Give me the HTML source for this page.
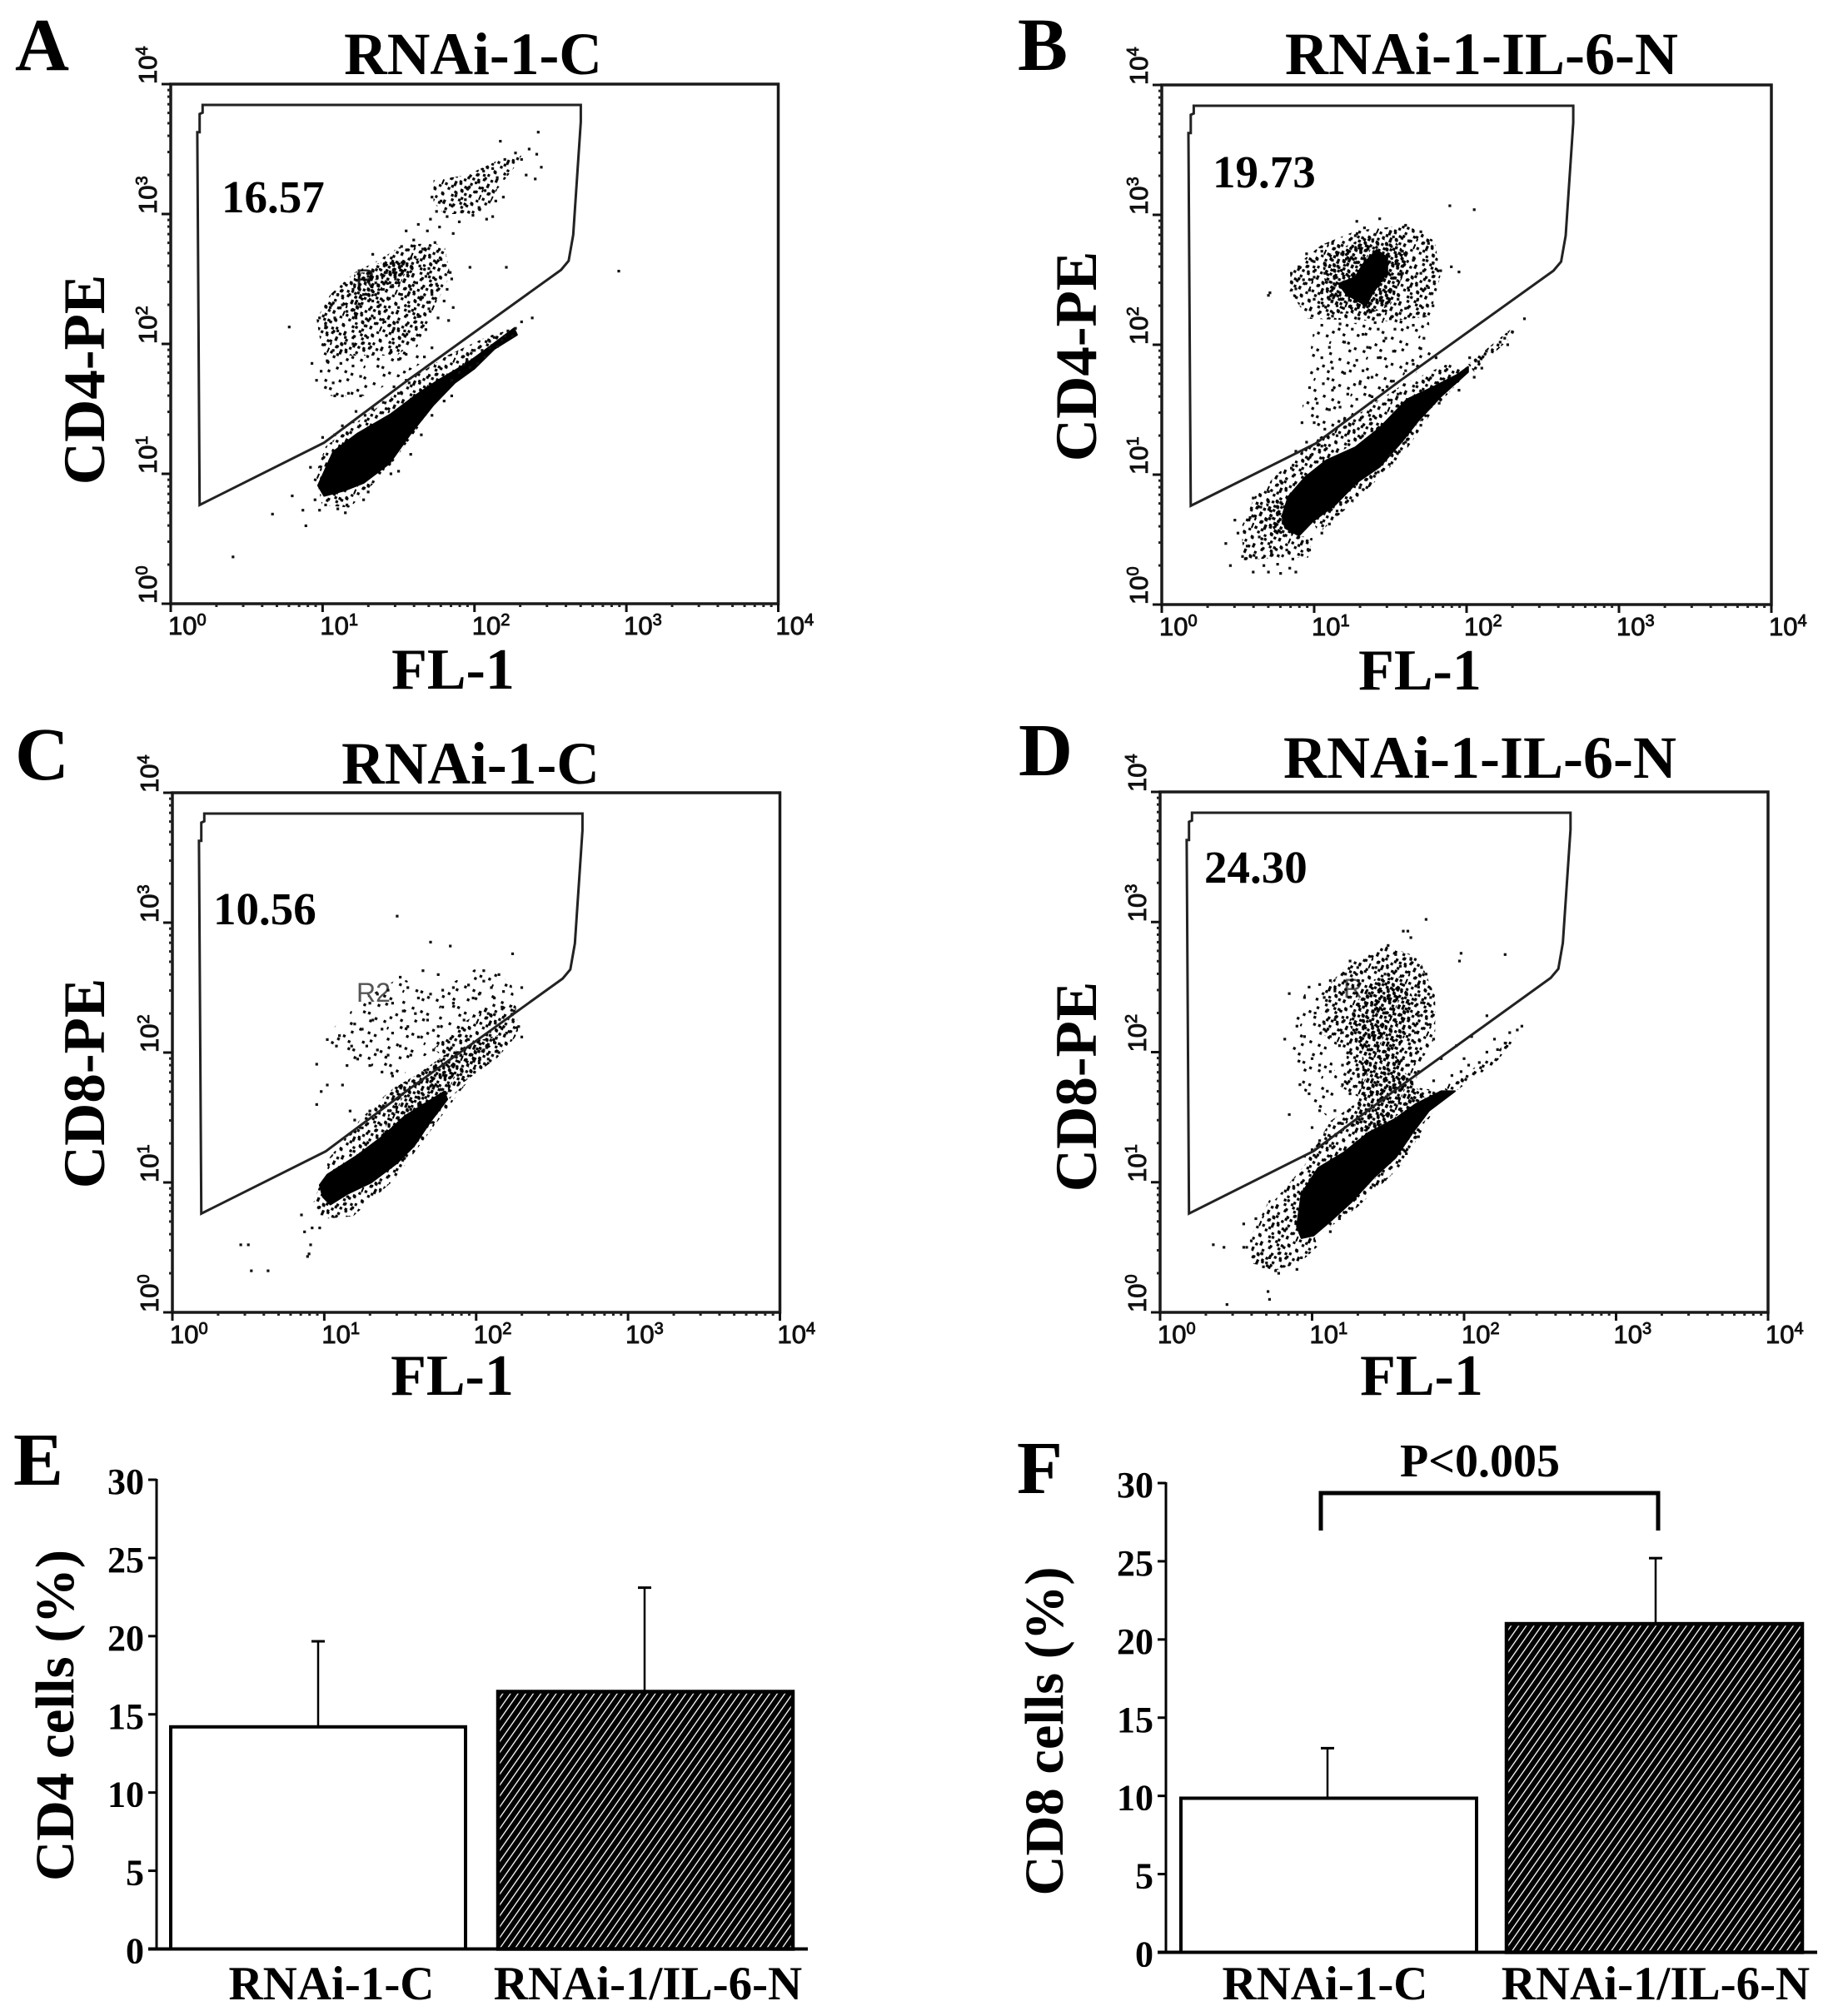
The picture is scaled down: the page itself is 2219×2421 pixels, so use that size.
<!DOCTYPE html>
<html lang="en">
<head>
<meta charset="utf-8">
<title>CD4 and CD8 flow cytometry panels</title>
<style>
html,body{margin:0;padding:0;background:#fff;}
svg{display:block;}
text{font-family:"Liberation Serif",serif;font-weight:bold;fill:#000;}
.tick{font-family:"Liberation Sans",sans-serif;font-weight:normal;fill:#111;stroke:#111;stroke-width:.9px;}
</style>
</head>
<body>
<svg id="figure" xmlns="http://www.w3.org/2000/svg" width="2219" height="2421" viewBox="0 0 2219 2421">
<defs id="defs">
<pattern id="hatch" patternUnits="userSpaceOnUse" width="7.5" height="8" patternTransform="rotate(35)">
<rect width="8" height="8" fill="#000"/>
<rect x="3" y="0" width="1.3" height="8" fill="#fff"/>
</pattern>
</defs>
<rect width="2219" height="2421" fill="#fff"/>
<text x="18" y="84" font-size="90">A</text>
<text x="1222" y="84" font-size="90">B</text>
<text x="18" y="936" font-size="90">C</text>
<text x="1223" y="931" font-size="90">D</text>
<text x="16" y="1783" font-size="90">E</text>
<text x="1221" y="1793" font-size="90">F</text>

<text x="568" y="89" font-size="71.5" text-anchor="middle">RNAi-1-C</text>
<text x="1779" y="89" font-size="72" text-anchor="middle">RNAi-1-IL-6-N</text>
<text x="565" y="941" font-size="71.5" text-anchor="middle">RNAi-1-C</text>
<text x="1777" y="934" font-size="72" text-anchor="middle">RNAi-1-IL-6-N</text>

<text x="544" y="827" font-size="70" text-anchor="middle">FL-1</text>
<text x="1705" y="828" font-size="70" text-anchor="middle">FL-1</text>
<text x="543" y="1675" font-size="70" text-anchor="middle">FL-1</text>
<text x="1707" y="1675" font-size="70" text-anchor="middle">FL-1</text>

<text transform="translate(125,456) rotate(-90)" font-size="71" text-anchor="middle">CD4-PE</text>
<text transform="translate(1316,428) rotate(-90)" font-size="71" text-anchor="middle">CD4-PE</text>
<text transform="translate(125,1301) rotate(-90)" font-size="71" text-anchor="middle">CD8-PE</text>
<text transform="translate(1316,1305) rotate(-90)" font-size="71" text-anchor="middle">CD8-PE</text>

<text x="266" y="255" font-size="55">16.57</text>
<text x="1456" y="225" font-size="55">19.73</text>
<text x="256" y="1110" font-size="55">10.56</text>
<text x="1446" y="1060" font-size="55">24.30</text>

<text x="427" y="346" font-size="32" style="font-family:'Liberation Sans',sans-serif;font-weight:normal;fill:#222">R</text>
<text x="428" y="1203" font-size="32" style="font-family:'Liberation Sans',sans-serif;font-weight:normal;fill:#555">R2</text>
<text x="1613" y="1198" font-size="32" style="font-family:'Liberation Sans',sans-serif;font-weight:normal;fill:#555">R</text>

<text transform="translate(88,2060) rotate(-90)" font-size="66" text-anchor="middle" textLength="398" lengthAdjust="spacingAndGlyphs">CD4 cells (%)</text>
<text transform="translate(1276,2079) rotate(-90)" font-size="66" text-anchor="middle" textLength="395" lengthAdjust="spacingAndGlyphs">CD8 cells (%)</text>

<text x="1777" y="1773" font-size="56" text-anchor="middle">P&lt;0.005</text>
<path d="M1586 1838V1793H1991V1838" fill="none" stroke="#000" stroke-width="5"/>
</svg>

<script>
// All event coordinates are log10 decades (0 to 4).
const xTickExponents = [0, 1, 2, 3, 4];
const yTickExponents = [0, 1, 2, 3, 4];
const gateVertices = [[0.21,3.84],[2.70,3.84],[2.70,3.71],[2.65,2.84],[2.62,2.64],[2.57,2.57],[1.56,1.72],[1.01,1.24],[0.19,0.76],[0.175,3.63],[0.19,3.63],[0.19,3.77],[0.21,3.78]];

// Solid black population cores
const coreA = [[0.97,0.91],[1.07,1.17],[1.23,1.31],[1.45,1.46],[1.62,1.61],[1.76,1.72],[1.95,1.85],[2.09,1.97],[2.26,2.12],[2.28,2.07],[2.13,1.96],[2.0,1.81],[1.87,1.70],[1.73,1.53],[1.58,1.31],[1.44,1.08],[1.27,0.93],[1.14,0.87],[1.01,0.83]];
const coreB = [[0.79,0.68],[0.83,0.83],[0.94,0.98],[1.08,1.11],[1.27,1.21],[1.43,1.36],[1.61,1.58],[1.79,1.68],[1.94,1.77],[2.01,1.83],[2.01,1.79],[1.83,1.60],[1.68,1.41],[1.58,1.26],[1.43,1.06],[1.28,0.94],[1.14,0.77],[0.99,0.64],[0.90,0.53],[0.81,0.59]];
const coreB2 = [[1.32,2.62],[1.41,2.73],[1.48,2.67],[1.48,2.56],[1.38,2.39],[1.34,2.30],[1.21,2.39],[1.16,2.47],[1.27,2.52]];
const coreC = [[0.97,0.98],[1.02,1.06],[1.22,1.21],[1.39,1.36],[1.53,1.51],[1.68,1.62],[1.79,1.70],[1.81,1.64],[1.70,1.47],[1.59,1.28],[1.48,1.15],[1.31,1.00],[1.15,0.91],[1.04,0.83],[0.99,0.89]];
const coreD = [[0.90,0.66],[0.93,0.91],[1.04,1.11],[1.21,1.23],[1.37,1.38],[1.55,1.49],[1.68,1.60],[1.85,1.70],[1.94,1.70],[1.77,1.55],[1.66,1.38],[1.55,1.19],[1.41,1.04],[1.26,0.85],[1.12,0.70],[1.01,0.59],[0.93,0.57]];

// Outlines of regions with high event density
const denseA1 = [[1.21,2.55],[1.32,2.55],[1.40,2.42],[1.27,2.32],[1.20,2.19],[1.18,2.23]];
const denseA2 = [[1.36,2.62],[1.65,2.66],[1.54,2.47],[1.40,2.45]];
const denseB1 = [[1.05,2.67],[1.28,2.80],[1.50,2.84],[1.61,2.69],[1.58,2.52],[1.50,2.30],[1.36,2.24],[1.17,2.24],[1.08,2.39]];
const denseB2 = [[0.68,0.79],[0.83,0.83],[0.79,0.68],[0.90,0.53],[0.74,0.55]];
const denseC1 = [[1.46,1.73],[1.61,1.83],[1.79,1.98],[2.01,2.09],[2.19,2.15],[2.08,2.03],[1.94,1.79],[1.79,1.66],[1.59,1.47],[1.39,1.36]];
const denseD1 = [[1.28,2.37],[1.41,2.56],[1.59,2.58],[1.68,2.39],[1.63,2.17],[1.55,1.98],[1.63,1.81],[1.33,1.81],[1.33,2.02],[1.24,2.22]];
const denseD2 = [[1.33,1.81],[1.63,1.81],[1.75,1.64],[1.68,1.60],[1.37,1.38],[1.28,1.43]];

// Outlines of regions with medium event density
const midA1 = [[0.96,2.19],[1.05,2.38],[1.21,2.55],[1.36,2.64],[1.54,2.77],[1.80,2.77],[1.84,2.53],[1.76,2.34],[1.65,2.06],[1.49,1.91],[1.18,1.91],[1.01,1.85]];
const midA2 = [[1.73,3.26],[1.95,3.30],[2.15,3.41],[2.31,3.45],[2.27,3.37],[2.15,3.19],[2.07,3.00],[1.80,3.00],[1.73,3.09]];
const midA3 = [[0.94,0.95],[1.02,1.21],[1.18,1.36],[1.43,1.57],[1.62,1.76],[1.82,1.91],[2.09,2.06],[2.20,2.10],[2.09,1.95],[1.76,1.72],[1.45,1.46],[1.23,1.31],[1.07,1.17],[0.97,0.91]];
const midA4 = [[0.97,0.91],[0.995,0.76],[1.18,0.74],[1.43,1.04],[1.62,1.34],[1.73,1.53],[1.58,1.31],[1.44,1.08],[1.27,0.93],[1.01,0.83]];
const midB1 = [[0.85,2.58],[1.05,2.77],[1.28,2.88],[1.61,2.92],[1.79,2.80],[1.83,2.54],[1.76,2.22],[1.50,2.18],[0.96,2.20],[0.83,2.43]];
const midB2 = [[0.61,0.83],[0.85,1.11],[1.05,1.30],[1.32,1.49],[1.59,1.70],[1.87,1.85],[2.01,1.83],[1.43,1.36],[1.08,1.11],[0.83,0.83],[0.79,0.68],[0.76,0.53],[0.59,0.59]];
const midB3 = [[0.52,0.59],[0.61,0.83],[0.79,0.68],[0.90,0.53],[0.99,0.51],[0.96,0.36],[0.74,0.36],[0.54,0.34]];
const midB4 = [[1.28,0.81],[1.58,1.15],[1.79,1.51],[2.01,1.79],[1.83,1.60],[1.58,1.26],[1.28,0.94],[0.99,0.64],[1.03,0.55]];
const midB5 = [[2.01,1.85],[2.30,2.13],[2.32,2.09],[2.05,1.79]];
const midC1 = [[1.02,1.17],[1.24,1.49],[1.39,1.66],[1.46,1.73],[1.39,1.36],[1.22,1.21],[1.02,1.06]];
const midC2 = [[1.72,2.03],[1.90,2.22],[2.08,2.35],[2.26,2.37],[2.28,2.15],[2.14,1.96],[1.94,1.79]];
const midC3 = [[0.93,0.85],[0.99,0.72],[1.19,0.74],[1.46,1.02],[1.72,1.43],[1.94,1.77],[1.81,1.64],[1.59,1.28],[1.31,1.00],[1.04,0.83],[0.97,0.98]];
const midD1 = [[1.06,2.45],[1.23,2.67],[1.48,2.82],[1.70,2.73],[1.81,2.43],[1.81,2.11],[1.70,1.90],[1.68,1.73],[1.33,1.64],[1.19,1.73],[1.23,1.98],[1.06,2.15]];
const midD2 = [[0.95,1.13],[1.12,1.47],[1.33,1.64],[1.68,1.73],[1.85,1.70],[1.55,1.49],[1.21,1.23],[1.04,1.11],[0.93,0.91],[0.90,0.66],[0.73,0.83]];
const midD3 = [[0.60,0.59],[0.73,0.89],[0.90,0.66],[1.01,0.59],[1.04,0.51],[0.92,0.38],[0.75,0.32],[0.60,0.38]];
const midD4 = [[1.85,1.73],[2.18,1.96],[2.34,2.15],[2.34,2.11],[2.21,1.92],[1.92,1.68]];
const midD5 = [[0.97,0.53],[1.30,0.81],[1.59,1.13],[1.79,1.53],[1.66,1.38],[1.55,1.19],[1.26,0.85],[1.01,0.59]];

// Outlines of regions with low event density
const sparseA1 = [[1.0,1.85],[1.18,1.91],[1.49,1.91],[1.65,2.06],[1.72,1.9],[1.3,1.6],[1.0,1.6]];
const sparseB1 = [[1.0,2.15],[1.75,2.2],[1.78,1.95],[1.6,1.68],[1.3,1.5],[1.05,1.3],[0.92,1.5]];
const sparseC1 = [[1.00,2.11],[1.20,2.37],[1.50,2.58],[1.72,2.45],[2.03,2.67],[2.23,2.54],[2.26,2.37],[1.72,2.03],[1.46,1.77],[1.17,1.94]];
const sparseD1 = [[1.06,2.15],[1.19,1.73],[1.1,1.5],[0.95,1.7],[0.85,2.1],[0.95,2.45],[1.06,2.45]];

// Individually visible events
const eventsA = [[2.42,3.63],[2.17,3.56],[2.36,3.5],[2.27,3.47],[2.31,3.42],[2.41,3.46],[2.44,3.36],[2.4,3.27],[2.34,3.3],[2.2,3.42],[2.12,3.35],[2.15,3.28],[2.06,3.33],[2.01,3.24],[2.07,3.18],[1.96,3.2],[1.88,3.16],[1.94,3.11],[2.03,3.05],[2.14,3.1],[2.19,3.13],[1.84,3.07],[1.78,3.1],[1.72,3.13],[1.75,3.02],[1.82,2.98],[1.71,2.96],[1.9,2.94],[1.99,2.99],[2.08,2.96],[2.12,2.98],[1.77,2.9],[1.86,2.85],[1.69,2.87],[1.63,2.92],[1.6,2.8],[1.55,2.87],[1.52,2.75],[1.66,2.73],[1.74,2.78],[1.33,2.69],[1.45,2.62],[1.52,2.6],[1.58,2.66],[1.64,2.6],[1.7,2.58],[1.78,2.65],[1.84,2.55],[1.97,2.59],[1.42,2.55],[1.48,2.5],[1.56,2.53],[1.62,2.47],[1.68,2.52],[1.75,2.46],[1.82,2.42],[1.85,2.5],[1.3,2.52],[1.35,2.47],[1.4,2.42],[1.46,2.45],[1.52,2.38],[1.58,2.42],[1.65,2.36],[1.72,2.38],[1.8,2.33],[1.86,2.28],[1.24,2.5],[1.2,2.42],[1.27,2.38],[1.33,2.33],[1.38,2.3],[1.44,2.35],[1.5,2.28],[1.57,2.25],[1.63,2.21],[1.7,2.27],[1.76,2.2],[1.83,2.18],[1.1,2.38],[1.13,2.3],[1.05,2.28],[1.08,2.2],[1.16,2.25],[1.22,2.2],[1.28,2.14],[1.34,2.2],[1.41,2.17],[1.47,2.12],[1.54,2.1],[1.6,2.03],[1.68,2.11],[0.98,2.2],[1.02,2.14],[1.1,2.1],[1.15,2.05],[1.2,2.0],[1.72,1.97],[1.67,1.9],[1.45,1.95],[1.5,1.88],[1.55,1.92],[1.07,1.95],[1.03,1.87],[1.12,1.85],[1.2,1.83],[1.25,1.75],[0.99,1.79],[0.93,1.85],[0.96,1.72],[1.07,1.7],[1.17,1.62],[1.13,1.6],[1.08,1.6],[1.25,1.6],[1.55,1.72],[2.27,2.12],[2.22,2.1],[2.18,2.03],[2.13,2.05],[2.1,1.97],[2.05,1.95],[2.0,1.95],[2.07,1.9],[2.15,1.98],[2.25,2.06],[2.31,2.17],[2.38,2.2],[2.02,1.85],[1.95,1.88],[1.9,1.78],[1.85,1.72],[2.2,2.06],[2.1,2.02],[1.97,1.82],[1.93,1.84],[1.0,1.28],[1.08,1.3],[1.13,1.37],[1.2,1.4],[1.28,1.45],[1.33,1.5],[1.4,1.55],[1.22,1.48],[1.5,1.62],[1.57,1.7],[1.47,1.67],[0.92,1.05],[0.95,0.8],[1.02,0.76],[1.1,0.73],[1.16,0.76],[1.27,0.8],[1.3,0.86],[1.45,1.0],[1.5,1.02],[1.58,1.15],[1.65,1.3],[1.72,1.45],[1.8,1.56],[1.85,1.6],[2.95,2.56],[0.41,0.36],[0.67,0.69],[0.8,0.83],[0.87,0.72],[0.89,0.6],[0.78,2.13],[2.21,2.59],[0.98,0.72],[1.15,0.7]];
const eventsB = [[1.89,3.07],[2.05,3.04],[1.43,2.97],[1.6,2.92],[1.33,2.9],[1.7,2.87],[1.27,2.84],[1.52,2.83],[1.62,2.8],[1.75,2.78],[1.12,2.78],[1.18,2.7],[1.05,2.72],[1.0,2.64],[0.95,2.7],[0.9,2.6],[0.85,2.55],[0.93,2.5],[0.97,2.42],[0.88,2.43],[1.0,2.52],[1.05,2.4],[1.06,2.3],[1.12,2.22],[1.17,2.16],[1.25,2.12],[1.32,2.08],[1.4,2.17],[1.5,2.2],[1.6,2.28],[1.68,2.35],[1.75,2.44],[1.83,2.57],[1.7,2.55],[1.78,2.63],[1.65,2.65],[1.58,2.55],[1.62,2.42],[1.55,2.35],[1.47,2.3],[1.42,2.12],[1.53,2.12],[1.9,2.6],[1.95,2.56],[0.7,2.38],[0.71,2.4],[1.1,2.6],[1.07,2.55],[1.13,2.47],[1.17,2.4],[1.1,2.35],[1.15,2.3],[1.28,2.95],[1.5,2.87],[1.4,2.85],[1.58,2.72],[1.55,2.62],[1.12,2.65],[1.0,2.35],[1.05,2.15],[1.72,2.22],[1.78,2.3],[1.65,2.15],[1.72,2.05],[1.7,1.97],[1.8,1.9],[1.65,1.85],[1.52,1.95],[1.47,2.05],[1.42,1.9],[1.35,1.98],[1.28,1.88],[1.2,2.02],[1.1,1.98],[1.05,1.9],[1.12,1.82],[1.2,1.78],[1.32,1.8],[1.38,1.75],[1.3,1.7],[1.22,1.62],[1.12,1.65],[1.06,1.7],[0.97,1.67],[1.02,1.55],[1.1,1.5],[1.17,1.52],[1.28,1.58],[1.38,1.6],[1.45,1.65],[1.52,1.72],[1.6,1.8],[1.55,1.62],[0.92,1.4],[1.0,1.4],[1.07,1.35],[1.15,1.3],[1.2,1.42],[1.3,1.42],[0.95,1.25],[0.88,1.18],[0.98,1.15],[1.05,1.22],[2.38,2.2],[2.3,2.1],[2.27,2.0],[2.22,2.02],[2.13,1.95],[2.08,1.87],[2.02,1.9],[2.25,2.05],[0.42,0.47],[0.45,0.3],[0.5,0.55],[0.53,0.37],[0.56,0.45],[0.58,0.67],[0.6,0.25],[0.62,0.36],[0.64,0.52],[0.67,0.3],[0.7,0.25],[0.72,0.4],[0.76,0.31],[0.78,0.24],[0.84,0.28],[0.88,0.25],[0.86,0.35],[0.48,0.65],[0.65,0.75],[0.6,0.82],[0.7,0.87],[0.78,0.95],[0.85,1.05],[1.1,0.62],[1.15,0.72],[1.25,0.8],[1.3,0.9],[1.42,1.02],[1.5,1.15],[1.6,1.25],[1.7,1.38],[1.82,1.55],[1.95,1.65],[2.05,1.75],[2.1,1.82],[1.05,0.55],[0.97,0.42],[0.82,0.42]];
const eventsC = [[1.48,3.05],[1.7,2.85],[1.83,2.82],[2.24,2.76],[2.05,2.63],[2.15,2.6],[1.65,2.63],[1.75,2.6],[1.78,2.48],[1.85,2.5],[1.95,2.52],[2.05,2.55],[2.1,2.5],[2.18,2.47],[2.3,2.5],[2.12,2.42],[2.02,2.45],[2.17,2.35],[2.25,2.32],[1.5,2.58],[1.55,2.5],[1.62,2.42],[1.7,2.45],[1.78,2.35],[1.85,2.38],[1.98,2.42],[2.08,2.3],[1.42,2.48],[1.35,2.45],[1.3,2.38],[1.45,2.38],[1.52,2.32],[1.6,2.3],[1.68,2.25],[1.75,2.2],[1.2,2.22],[1.25,2.18],[1.32,2.25],[1.38,2.18],[1.45,2.15],[1.55,2.2],[1.62,2.12],[1.1,2.13],[1.02,2.1],[1.08,2.05],[1.18,2.05],[1.28,2.05],[1.35,2.02],[1.42,1.98],[1.5,2.05],[1.57,1.98],[1.22,1.95],[1.15,1.9],[1.3,1.9],[1.38,1.85],[1.45,1.82],[0.95,1.91],[1.02,1.75],[0.98,1.7],[1.12,1.75],[0.95,1.6],[1.17,1.55],[1.2,1.48],[1.3,1.55],[1.25,1.42],[2.28,2.2],[2.3,2.12],[2.2,2.15],[2.12,2.08],[2.15,2.0],[2.05,2.02],[2.02,1.92],[2.08,1.95],[1.95,2.1],[1.9,1.98],[1.92,2.25],[1.82,2.08],[1.72,2.02],[0.85,0.75],[0.92,0.65],[0.97,0.65],[0.87,0.62],[0.91,0.52],[0.9,0.45],[0.89,0.43],[0.45,0.52],[0.5,0.52],[0.52,0.32],[0.63,0.32]];
const eventsD = [[1.75,3.02],[1.63,2.93],[1.6,2.93],[1.65,2.88],[1.5,2.82],[1.55,2.75],[1.65,2.72],[1.58,2.66],[1.72,2.65],[1.98,2.76],[1.97,2.7],[2.27,2.75],[1.75,2.6],[1.25,2.7],[1.3,2.65],[1.22,2.6],[1.35,2.62],[1.42,2.65],[1.48,2.6],[1.7,2.5],[1.78,2.42],[1.72,2.38],[1.12,2.55],[1.05,2.52],[1.08,2.42],[1.15,2.47],[0.85,2.45],[0.95,2.42],[0.98,2.5],[1.1,2.32],[1.15,2.25],[1.08,2.22],[1.02,2.3],[1.2,2.15],[1.12,2.12],[1.18,2.05],[1.75,2.22],[1.8,2.1],[1.68,2.15],[1.7,2.28],[0.95,2.12],[0.82,2.1],[0.9,2.2],[1.0,1.95],[1.05,1.9],[1.2,1.9],[1.25,2.0],[1.12,1.85],[0.92,1.75],[0.98,1.68],[1.1,1.7],[1.2,1.75],[1.25,1.68],[1.05,1.55],[1.15,1.55],[1.2,1.45],[1.0,1.42],[0.85,1.52],[1.05,1.32],[1.12,1.28],[1.0,1.25],[0.95,1.2],[1.7,1.85],[1.8,1.78],[1.6,1.95],[1.85,1.95],[2.0,1.95],[2.15,2.28],[2.05,2.12],[1.95,2.05],[2.2,2.1],[2.3,2.15],[2.35,2.17],[2.38,2.2],[2.27,2.07],[2.22,2.02],[2.15,2.0],[2.1,1.92],[2.03,1.9],[1.98,1.85],[1.92,1.82],[0.35,0.52],[0.42,0.5],[0.55,0.5],[0.57,0.5],[0.6,0.55],[0.55,0.68],[0.63,0.72],[0.67,0.45],[0.7,0.38],[0.72,0.42],[0.76,0.32],[0.68,0.35],[0.78,0.3],[0.9,0.33],[0.93,0.42],[0.72,0.1],[0.44,0.06],[0.71,0.16],[1.12,0.62],[1.18,0.72],[1.4,0.98],[1.48,1.02],[1.62,1.22],[1.7,1.35]];

const panelLayouts = [
  {id:'a', left:205, right:934.5, top:101, bottom:725, events:eventsA, cores:[coreA], dense:[denseA1,denseA2], mid:[midA1,midA2,midA3,midA4], sparse:[sparseA1]},
  {id:'b', left:1395, right:2127, top:102, bottom:726, events:eventsB, cores:[coreB,coreB2], dense:[denseB1,denseB2], mid:[midB1,midB2,midB3,midB4,midB5], sparse:[sparseB1]},
  {id:'c', left:207, right:936.5, top:952, bottom:1576, events:eventsC, cores:[coreC], dense:[denseC1], mid:[midC1,midC2,midC3], sparse:[sparseC1]},
  {id:'d', left:1393, right:2123, top:951, bottom:1576, events:eventsD, cores:[coreD], dense:[denseD1,denseD2], mid:[midD1,midD2,midD3,midD4,midD5], sparse:[sparseD1]}
];

const barCategories = ['RNAi-1-C', 'RNAi-1/IL-6-N'];
const barTickValues = [0, 5, 10, 15, 20, 25, 30];
const cd4Means = [14.2, 16.45];
const cd4Tops = [19.67, 23.1];
const cd8Means = [9.85, 21.0];
const cd8Tops = [13.05, 25.2];

// Speckle texture used to fill the density regions
const speckleCells = [[3,5],[14,2],[27,7],[40,3],[8,14],[20,12],[33,15],[45,11],[1,22],[13,24],[25,20],[37,23],[44,28],[6,31],[18,33],[30,29],[39,35],[10,40],[23,41],[34,43],[46,41],[16,45],[28,36],[2,40],[9,26],[21,27],[35,7],[42,18],[16,7],[30,22],[12,34],[24,4]];
const sparseShifts = [];
const midShifts = [[16,9]];
const denseShifts = [[16,9],[31,27],[8,30]];

const svg = document.getElementById('figure');
const defs = document.getElementById('defs');
const NS = 'http://www.w3.org/2000/svg';
function make(tag, attrs, parent) {
  const el = document.createElementNS(NS, tag);
  for (const k in attrs) el.setAttribute(k, attrs[k]);
  (parent || svg).appendChild(el);
  return el;
}

function speckleOffsets(cells, shifts) {
  let out = cells.slice();
  shifts.forEach(s => {
    out = out.concat(cells.map(c => [(c[0] + s[0]) % 48, (c[1] + s[1]) % 48]));
  });
  return out;
}
function makeSpeckle(id, cells) {
  const pat = make('pattern', {id:id, patternUnits:'userSpaceOnUse', width:48, height:48, patternTransform:'rotate(23)'}, defs);
  
  
  const d = cells.map(c => 'M' + c[0] + ' ' + c[1] + 'h3.2v3.2h-3.2z').join('');
  const path = make('path', {d:d, fill:'#000'}, pat);
  
  
}
makeSpeckle('speckleSparse', speckleCells.filter((c, i) => i % 2 === 0));
makeSpeckle('speckleMid', speckleOffsets(speckleCells, midShifts));
makeSpeckle('speckleDense', speckleOffsets(speckleCells, denseShifts));

function drawFlow(p) {
  const sx = v => p.left + v / 4 * (p.right - p.left);
  const sy = v => p.bottom - v / 4 * (p.bottom - p.top);
  const pts = a => a.map(d => sx(d[0]).toFixed(1) + ',' + sy(d[1]).toFixed(1)).join(' ');
  const g = make('g', {});
  
  

  const frame = make('rect', {x:p.left, y:p.top, width:p.right-p.left, height:p.bottom-p.top, fill:'none', stroke:'#1a1a1a', 'stroke-width':3.5}, g);
  
  

  p.sparse.forEach(r => {
    const el = make('polygon', {points:pts(r), fill:'url(#speckleSparse)'}, g);
    
    
  });
  p.mid.forEach(r => {
    const el = make('polygon', {points:pts(r), fill:'url(#speckleMid)'}, g);
    
    
  });
  p.dense.forEach(r => {
    const el = make('polygon', {points:pts(r), fill:'url(#speckleDense)'}, g);
    
    
  });
  p.cores.forEach(c => {
    const el = make('polygon', {points:pts(c), fill:'#000', stroke:'#000', 'stroke-width':2, 'stroke-linejoin':'round'}, g);
    
    
  });
  p.events.forEach(d => {
    const el = make('rect', {x:(sx(d[0])-1.6).toFixed(1), y:(sy(d[1])-1.6).toFixed(1), width:3.2, height:3.2, fill:'#111'}, g);
    
    
  });

  const gate = make('polygon', {points:pts(gateVertices), fill:'none', stroke:'#222', 'stroke-width':3}, g);
  
  

  xTickExponents.forEach(e => {
    const label = make('text', {x:sx(e)-3, y:p.bottom+37, 'font-size':31, class:'tick'}, g);
    
    
    label.textContent = '10';
    const sup = make('tspan', {dy:-11, 'font-size':20}, label);
    sup.textContent = String(e);
    const mark = make('line', {x1:sx(e), x2:sx(e), y1:p.bottom, y2:p.bottom+10, stroke:'#111', 'stroke-width':3}, g);
    
    
    if (e < 4) for (let m = 2; m < 10; m++) {
      const minor = make('line', {x1:sx(e+Math.log10(m)), x2:sx(e+Math.log10(m)), y1:p.bottom, y2:p.bottom+4, stroke:'#222', 'stroke-width':3}, g);
      
      
    }
  });
  yTickExponents.forEach(e => {
    const label = make('text', {transform:'translate(' + (p.left-17) + ',' + sy(e) + ') rotate(-90)', 'font-size':31, class:'tick'}, g);
    
    
    label.textContent = '10';
    const sup = make('tspan', {dy:-11, 'font-size':20}, label);
    sup.textContent = String(e);
    const mark = make('line', {x1:p.left-11, x2:p.left, y1:sy(e), y2:sy(e), stroke:'#111', 'stroke-width':3}, g);
    
    
    if (e < 4) for (let m = 2; m < 10; m++) {
      const minor = make('line', {x1:p.left-4, x2:p.left, y1:sy(e+Math.log10(m)), y2:sy(e+Math.log10(m)), stroke:'#222', 'stroke-width':3}, g);
      
      
    }
  });
}

function drawBars(b) {
  const sy = v => b.zero - v / 30 * (b.zero - b.full);
  const g = make('g', {});
  
  

  barTickValues.forEach(v => {
    const mark = make('line', {x1:b.axis-10, x2:b.axis, y1:sy(v), y2:sy(v), stroke:'#000', 'stroke-width':3}, g);
    
    
    const label = make('text', {x:b.axis-15, y:sy(v)+17, 'font-size':44, 'text-anchor':'end'}, g);
    
    
    label.textContent = String(v);
  });

  b.means.forEach((m, i) => {
    const stem = make('line', {x1:b.errX[i], x2:b.errX[i], y1:sy(m), y2:sy(b.tops[i]), stroke:'#000', 'stroke-width':2.5}, g);
    
    
    const cap = make('line', {x1:b.errX[i]-8, x2:b.errX[i]+8, y1:sy(b.tops[i]), y2:sy(b.tops[i]), stroke:'#000', 'stroke-width':3}, g);
    
    
    const bar = make('rect', {x:b.barL[i], y:sy(m), width:b.barW, height:b.zero-sy(m), fill:i === 0 ? '#fff' : 'url(#hatch)', stroke:'#000', 'stroke-width':i === 0 ? 4 : 4.5}, g);
    
    
    const label = make('text', {x:b.labelX[i], y:2401, 'font-size':57, 'text-anchor':'middle'}, g);
    
    
    label.textContent = barCategories[i];
  });

  const yAxis = make('line', {x1:b.axis, x2:b.axis, y1:b.full-1, y2:b.zero+2, stroke:'#000', 'stroke-width':3}, g);
  
  
  const xAxis = make('line', {x1:b.axis-10, x2:b.axisEnd, y1:b.zero, y2:b.zero, stroke:'#000', 'stroke-width':4}, g);
  
  
}

panelLayouts.forEach(drawFlow);
drawBars({id:'e', axis:188, axisEnd:970, zero:2340.5, full:1777, means:cd4Means, tops:cd4Tops, barL:[205,598], barW:354, errX:[382,774], labelX:[398,778]});
drawBars({id:'f', axis:1400, axisEnd:2182, zero:2344.5, full:1781, means:cd8Means, tops:cd8Tops, barL:[1418,1809], barW:355, errX:[1594,1988], labelX:[1591,1988]});
</script>
</body>
</html>
